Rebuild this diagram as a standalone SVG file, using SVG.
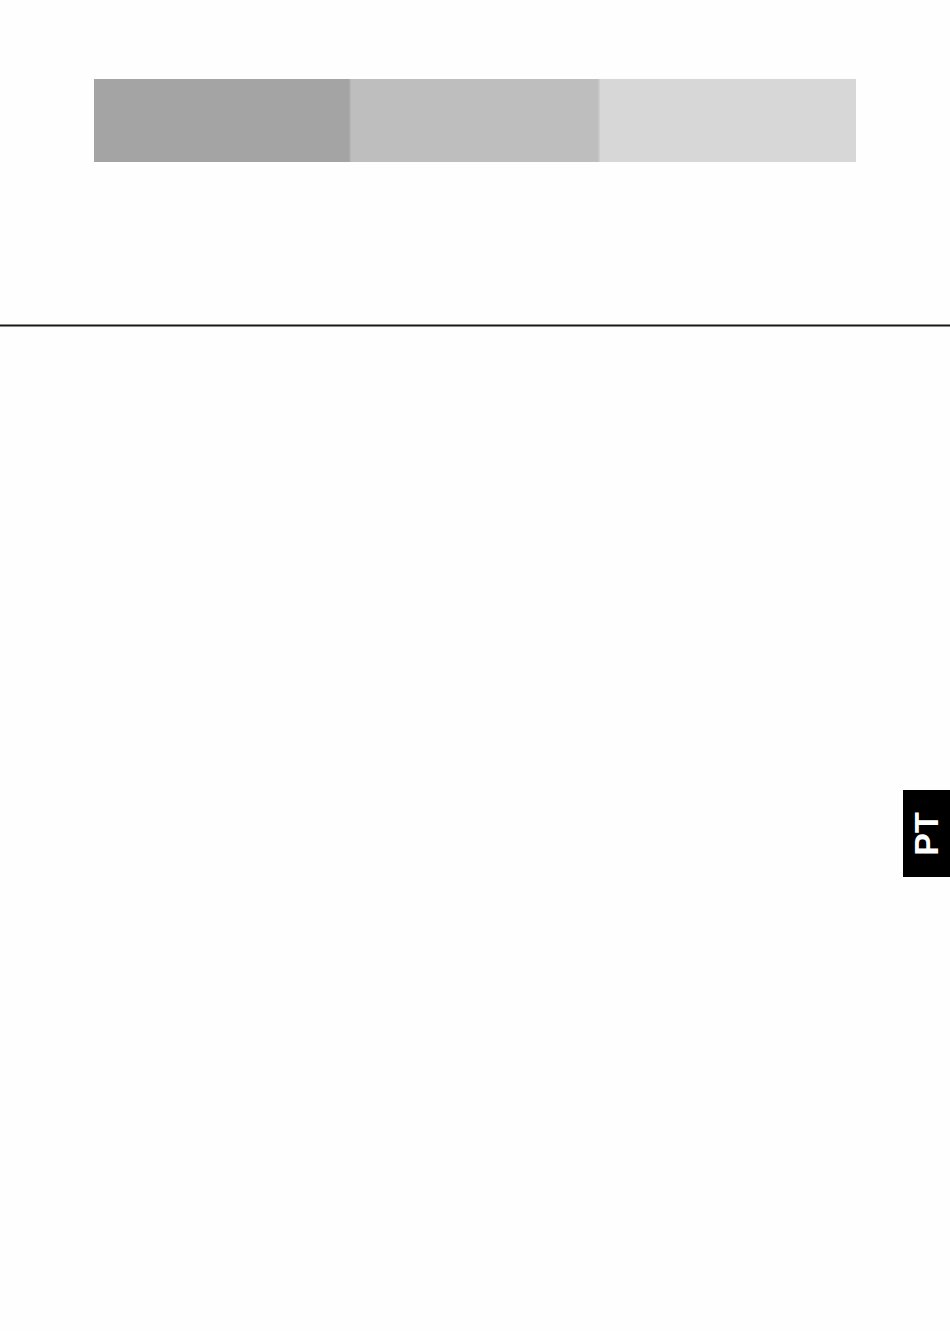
<svg xmlns="http://www.w3.org/2000/svg" width="950" height="1331" viewBox="0 0 950 1331">
<style>
.tab{font-family:"Liberation Sans",Arial,sans-serif;font-weight:bold;font-size:34px;fill:#fff}
</style>
<rect width="950" height="1331" fill="#fefefe"/>
<g id="header-bars">
<rect x="94" y="79" width="256" height="83" fill="#a4a4a4"/>
<rect x="350" y="79" width="249" height="83" fill="#bebebe"/>
<rect x="599" y="79" width="257" height="83" fill="#d7d7d7"/>
<rect x="349.5" y="79" width="1.2" height="83" fill="#b2b2b2"/>
<rect x="598.5" y="79" width="1.2" height="83" fill="#cacaca"/>
</g>
<g id="rule">
<rect x="0" y="324.5" width="950" height="2" fill="#1a1912"/>
</g>
<g id="pt-tab">
<rect x="903" y="790" width="47" height="87" fill="#000"/>
<text class="tab" x="0" y="0" text-anchor="middle" transform="translate(938,834) rotate(-90)">PT</text>
</g>
</svg>
